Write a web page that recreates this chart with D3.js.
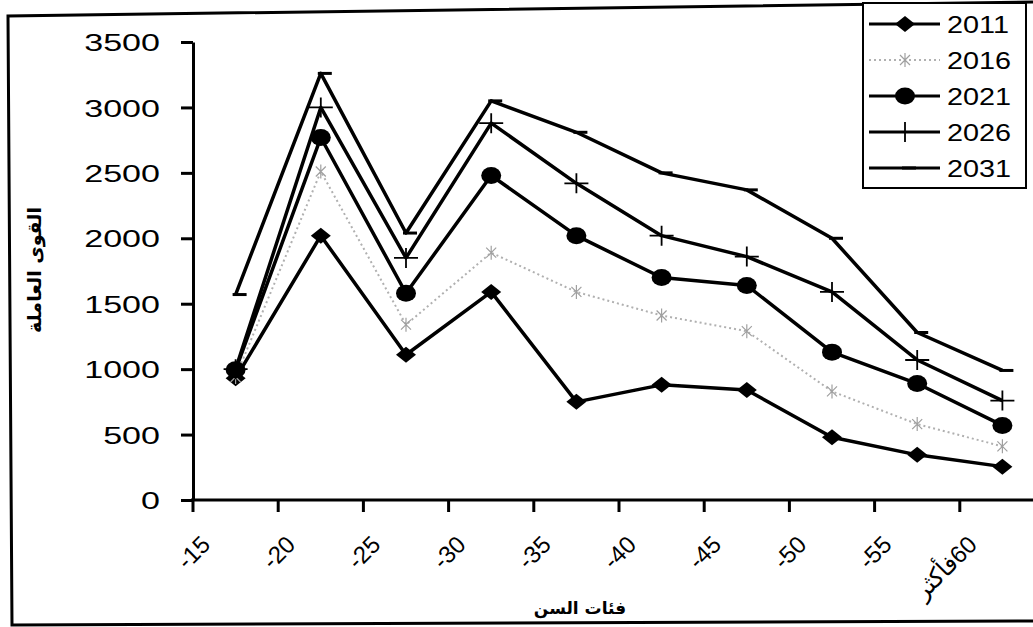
<!DOCTYPE html>
<html>
<head>
<meta charset="utf-8">
<script src="https://cdn.jsdelivr.net/npm/d3@7"></script>
<style>
  body { margin: 0; background: #fff; }
  svg { display: block; }
</style>
</head>
<body>
<div id="chart"></div>
<script>
(function(){
  const ageGroups = ["-15", "-20", "-25", "-30", "-35", "-40", "-45", "-50", "-55", "60فأكثر"];
  const years = ["2011", "2016", "2021", "2026", "2031"];
  const v2011 = [930, 2020, 1110, 1590, 750, 880, 840, 480, 345, 255];
  const v2016 = [940, 2510, 1340, 1890, 1590, 1410, 1290, 830, 580, 410];
  const v2021 = [995, 2770, 1580, 2480, 2020, 1700, 1640, 1130, 890, 570];
  const v2026 = [1000, 3000, 1850, 2880, 2420, 2020, 1860, 1590, 1070, 760];
  const v2031 = [1570, 3260, 2040, 3050, 2810, 2500, 2370, 2000, 1280, 990];
  const yTicks = [0, 500, 1000, 1500, 2000, 2500, 3000, 3500];
  const seriesValues = [v2011, v2016, v2021, v2026, v2031];

  const width = 1033, height = 627;
  const svg = d3.select("#chart").append("svg")
    .attr("width", width)
    .attr("height", height);

  // outer frame (scan is a little skewed)
  svg.append("path")
    .attr("d", "M1033,2 L8,16 L12,625 L1033,621")
    .attr("fill", "none")
    .attr("stroke", "#000")
    .attr("stroke-width", 3);

  const x = d3.scaleBand()
    .domain(ageGroups)
    .range([193, 1045])
    .padding(0);
  const cx = d => x(d) + x.bandwidth() / 2;

  const y = d3.scaleLinear()
    .domain([0, 3500])
    .range([500, 42]);

  // y axis
  const yAxis = svg.append("g")
    .attr("transform", "translate(193,0)")
    .call(d3.axisLeft(y).tickValues(yTicks).tickFormat(d3.format("d")).tickSize(12).tickSizeOuter(0));
  yAxis.select(".domain").attr("stroke-width", 3);
  yAxis.selectAll(".tick line").attr("stroke-width", 3);
  yAxis.selectAll(".tick text")
    .attr("font-family", "'Liberation Sans', Arial, sans-serif")
    .attr("font-size", 24)
    .attr("fill", "#000")
    .attr("x", -33 / 1.42)
    .attr("dy", "0.36em")
    .attr("transform", "scale(1.42,1)");

  // x axis line with ticks at category boundaries
  svg.append("line")
    .attr("x1", 191).attr("x2", width)
    .attr("y1", y(0)).attr("y2", y(0))
    .attr("stroke", "#000").attr("stroke-width", 3);
  svg.append("g").selectAll("line")
    .data(ageGroups)
    .join("line")
    .attr("x1", d => x(d)).attr("x2", d => x(d))
    .attr("y1", y(0)).attr("y2", y(0) + 12)
    .attr("stroke", "#000").attr("stroke-width", 3);

  // labels; the Arabic one is wrapped in an RTL embedding so "60" sits at the end
  svg.append("g").selectAll("text")
    .data(ageGroups)
    .join("text")
    .attr("font-family", "'Liberation Sans', Arial, 'DejaVu Sans', sans-serif")
    .attr("font-size", 24)
    .attr("text-anchor", "end")
    .attr("transform", d => `translate(${cx(d) - 24},546) rotate(-45)`)
    .text(d => /[\u0600-\u06FF]/.test(d) ? "\u202B" + d + "\u202C" : d);

  // axis titles
  svg.append("text")
    .attr("x", 580).attr("y", 614)
    .attr("text-anchor", "middle")
    .attr("font-family", "'DejaVu Sans', sans-serif")
    .attr("font-weight", "bold")
    .attr("font-size", 17)
    .text("فئات السن");
  svg.append("text")
    .attr("transform", "translate(41,270) rotate(-90)")
    .attr("text-anchor", "middle")
    .attr("font-family", "'DejaVu Sans', sans-serif")
    .attr("font-weight", "bold")
    .attr("font-size", 19)
    .text("القوى العاملة");

  const line = d3.line()
    .x((d, i) => cx(ageGroups[i]))
    .y(d => y(d));

  const styles = [
    { stroke: "#000", width: 3.5, dash: null },
    { stroke: "#b0b0b0", width: 2, dash: "2,3" },
    { stroke: "#000", width: 3.5, dash: null },
    { stroke: "#000", width: 3.5, dash: null },
    { stroke: "#000", width: 3.5, dash: null }
  ];

  // marker drawing
  function drawMarker(g, k) {
    if (k === 0) {
      g.append("path").attr("d", "M-10,0 L0,-8 L10,0 L0,8 Z").attr("fill", "#000");
    } else if (k === 1) {
      g.append("path").attr("d", "M-5,-5 L5,5 M-5,5 L5,-5 M0,-7 L0,7")
        .attr("stroke", "#a0a0a0").attr("stroke-width", 1.2).attr("fill", "none");
    } else if (k === 2) {
      g.append("ellipse").attr("rx", 10).attr("ry", 8.5).attr("fill", "#000");
    } else if (k === 3) {
      g.append("path").attr("d", "M-12,0 L12,0 M0,-10 L0,10")
        .attr("stroke", "#000").attr("stroke-width", 1.8).attr("fill", "none");
    } else {
      g.append("path").attr("d", "M-3,0 L11,0")
        .attr("stroke", "#000").attr("stroke-width", 3).attr("fill", "none");
    }
  }

  const plot = svg.append("g");
  seriesValues.forEach((vals, k) => {
    plot.append("path")
      .datum(vals)
      .attr("d", line)
      .attr("fill", "none")
      .attr("stroke", styles[k].stroke)
      .attr("stroke-width", styles[k].width)
      .attr("stroke-dasharray", styles[k].dash)
      .attr("stroke-linejoin", "round");
    vals.forEach((v, i) => {
      const g = plot.append("g")
        .attr("transform", `translate(${cx(ageGroups[i])},${y(v)})`);
      drawMarker(g, k);
    });
  });

  // legend
  const legend = svg.append("g");
  legend.append("rect")
    .attr("x", 863).attr("y", 3)
    .attr("width", 163).attr("height", 185)
    .attr("fill", "#fff")
    .attr("stroke", "#000")
    .attr("stroke-width", 2);
  const legendY = d3.scalePoint().domain(years).range([24, 168]);
  years.forEach((yr, k) => {
    const ly = legendY(yr);
    legend.append("line")
      .attr("x1", 869).attr("x2", 940)
      .attr("y1", ly).attr("y2", ly)
      .attr("stroke", styles[k].stroke)
      .attr("stroke-width", k === 1 ? 2 : 3)
      .attr("stroke-dasharray", styles[k].dash);
    const g = legend.append("g").attr("transform", `translate(905,${ly})`);
    drawMarker(g, k);
    legend.append("text")
      .attr("x", 947 / 1.2).attr("y", ly)
      .attr("dy", "0.36em")
      .attr("transform", "scale(1.2,1)")
      .attr("font-family", "'Liberation Sans', Arial, sans-serif")
      .attr("font-size", 24)
      .text(yr);
  });
})();
</script>
</body>
</html>
